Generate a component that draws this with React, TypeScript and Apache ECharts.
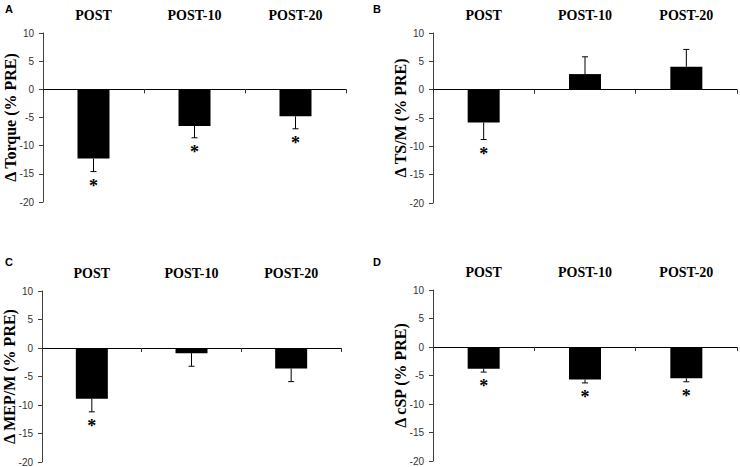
import React, { useEffect, useRef } from 'react';
import * as echarts from 'echarts';

// categories and tick settings
const categories = ['POST', 'POST-10', 'POST-20'];
const yMin = -20;
const yMax = 10;
const yInterval = 5;

// panel A: torque
const torqueMean = [-12.3, -6.5, -4.8];
const torqueErr = [2.3, 2.1, 2.2];
const torqueSig = [true, true, true];

// panel B: TS/M
const tsmMean = [-5.8, 2.75, 4.05];
const tsmErr = [3.0, 3.05, 3.05];
const tsmSig = [true, false, false];

// panel C: MEP/M
const mepMean = [-8.9, -0.9, -3.6];
const mepErr = [2.3, 2.3, 2.3];
const mepSig = [true, false, false];

// panel D: cSP
const cspMean = [-3.8, -5.7, -5.5];
const cspErr = [0.6, 0.6, 0.6];
const cspSig = [true, true, true];

const panelLetters = ['A', 'B', 'C', 'D'];
const yNames = ['Δ Torque (% PRE)', 'Δ TS/M (% PRE)', 'Δ MEP/M (% PRE)', 'Δ cSP (% PRE)'];

const panels = [
  { mean: torqueMean, err: torqueErr, sig: torqueSig },
  { mean: tsmMean, err: tsmErr, sig: tsmSig },
  { mean: mepMean, err: mepErr, sig: mepSig },
  { mean: cspMean, err: cspErr, sig: cspSig },
];

// grid boxes for the 4 panels (pixels)
const grids = [
  { left: 43, top: 33, width: 303, height: 169 },
  { left: 433, top: 33, width: 304, height: 170 },
  { left: 39, top: 291, width: 302, height: 171 },
  { left: 433, top: 290, width: 304, height: 171 },
];
const letterPos = [
  [5, 3],
  [373, 3],
  [5, 256],
  [373, 256],
];

const SERIF = '"Liberation Serif", "Times New Roman", serif';
const SANS = '"Liberation Sans", Arial, sans-serif';

const App: React.FC = () => {
  const chartRef = useRef<HTMLDivElement>(null);

  useEffect(() => {
    if (!chartRef.current) return;
    const chart = echarts.init(chartRef.current, null, { renderer: 'svg' });

    const xAxis: any[] = [];
    const yAxis: any[] = [];
    const series: any[] = [];

    panels.forEach((p, i) => {
      // axis line at zero with boundary ticks
      xAxis.push({
        type: 'category',
        gridIndex: i,
        data: categories,
        position: 'bottom',
        axisLine: { show: true, onZero: true, onZeroAxisIndex: i, lineStyle: { color: '#000', width: 1 } },
        axisTick: { show: true, length: 4, lineStyle: { color: '#333' } },
        axisLabel: { show: false },
        splitLine: { show: false },
      });
      // category labels on top
      xAxis.push({
        type: 'category',
        gridIndex: i,
        data: categories,
        position: 'top',
        axisLine: { show: false, onZero: false },
        axisTick: { show: false },
        axisLabel: {
          show: true,
          margin: 11,
          fontFamily: SERIF,
          fontWeight: 'bold',
          fontSize: 14,
          color: '#000',
        },
      });
      yAxis.push({
        type: 'value',
        gridIndex: i,
        min: yMin,
        max: yMax,
        interval: yInterval,
        name: yNames[i],
        nameLocation: 'middle',
        nameGap: 25,
        nameMoveOverlap: false,
        nameTextStyle: { fontFamily: SERIF, fontWeight: 'bold', fontSize: 16, color: '#000' },
        axisLine: { show: true, lineStyle: { color: '#404040', width: 1 } },
        axisTick: { show: true, length: 4, lineStyle: { color: '#404040' } },
        axisLabel: { fontFamily: SANS, fontSize: 10, color: '#333', margin: 9 },
        splitLine: { show: false },
      });

      series.push({
        type: 'bar',
        xAxisIndex: i * 2,
        yAxisIndex: i,
        data: p.mean,
        barWidth: 32,
        itemStyle: { color: '#000' },
        silent: true,
      });

      series.push({
        type: 'custom',
        xAxisIndex: i * 2,
        yAxisIndex: i,
        data: p.mean.map((m, k) => [k, m, p.err[k], p.sig[k] ? 1 : 0]),
        z: 5,
        renderItem: (_params: any, api: any) => {
          const idx = api.value(0);
          const m = api.value(1);
          const e = api.value(2);
          const s = api.value(3);
          const dir = m < 0 ? -1 : 1;
          const base = api.coord([idx, m]);
          const end = api.coord([idx, m + dir * e]);
          const cap = 3;
          const children: any[] = [
            {
              type: 'line',
              shape: { x1: base[0], y1: base[1], x2: end[0], y2: end[1] },
              style: { stroke: '#000', lineWidth: 1 },
            },
            {
              type: 'line',
              shape: { x1: end[0] - cap, y1: end[1], x2: end[0] + cap, y2: end[1] },
              style: { stroke: '#000', lineWidth: 1 },
            },
          ];
          if (s) {
            children.push({
              type: 'text',
              x: end[0],
              y: end[1] + 5,
              style: {
                text: '*',
                fontFamily: SERIF,
                fontWeight: 'bold',
                fontSize: 18,
                fill: '#000',
                align: 'center',
                verticalAlign: 'top',
              },
            });
          }
          return { type: 'group', children };
        },
      });
    });

    chart.setOption({
      animation: false,
      backgroundColor: '#fff',
      grid: grids.map((g) => ({ ...g, containLabel: false })),
      xAxis,
      yAxis,
      series,
      graphic: panelLetters.map((t, i) => ({
        type: 'text',
        left: letterPos[i][0],
        top: letterPos[i][1],
        style: { text: t, fontFamily: SANS, fontWeight: 'bold', fontSize: 11, fill: '#000' },
      })),
    });

    return () => {
      chart.dispose();
    };
  }, []);

  return (
    <div
      ref={chartRef}
      style={{ position: 'fixed', left: 0, top: 0, width: '740px', height: '467px', background: '#fff' }}
    />
  );
};

export default App;
